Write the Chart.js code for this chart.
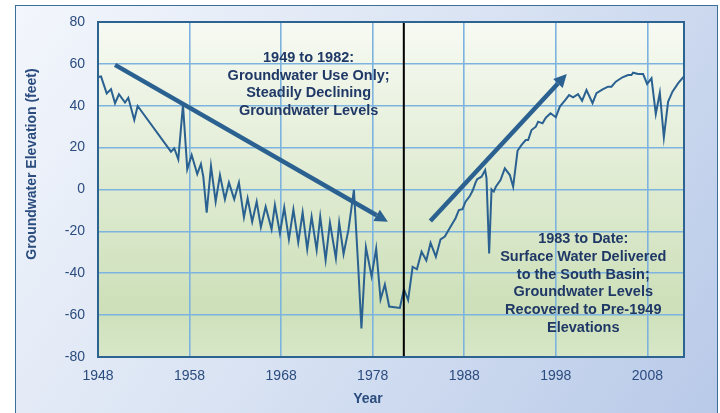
<!DOCTYPE html>
<html>
<head>
<meta charset="utf-8">
<script src="https://cdn.jsdelivr.net/npm/chart.js@4.4.1/dist/chart.umd.min.js"></script>
<style>
  html, body { margin: 0; padding: 0; width: 720px; height: 413px; overflow: hidden; background: #fff; }
  .panel {
    position: absolute; left: 15px; top: 5px; width: 701px; height: 420px;
    border: 1.5px solid #3b6f98;
    background: linear-gradient(125deg, #f3f6fc 0%, #d9e3f3 48%, #b8c9e8 100%);
  }
  .wrap { position: absolute; left: 0; top: 0; width: 720px; height: 413px; }
</style>
</head>
<body>
<div class="panel"></div>
<div class="wrap"><canvas id="gwChart"></canvas></div>
<script>
const years = [
  1948.05, 1948.33, 1948.95, 1949.42, 1949.86, 1950.29, 1950.95, 1951.31, 1951.96, 1952.33,
  1955.97, 1956.33, 1956.77, 1957.28, 1957.75, 1958.23, 1958.84, 1959.24, 1959.50, 1959.87,
  1960.34, 1960.85, 1961.32, 1961.86, 1962.30, 1962.88, 1963.39, 1963.94, 1964.34, 1964.84,
  1965.33, 1965.79, 1966.31, 1966.96, 1967.32, 1967.87, 1968.34, 1968.85, 1969.34, 1969.87,
  1970.35, 1970.85, 1971.33, 1971.88, 1972.27, 1972.86, 1973.33, 1973.98, 1974.34, 1974.82,
  1975.35, 1975.95, 1976.42, 1976.77, 1977.26, 1977.88, 1978.38, 1978.86, 1979.33, 1979.80,
  1980.97, 1981.41, 1981.87, 1982.36, 1982.83, 1983.34, 1983.86, 1984.32, 1984.90, 1985.41,
  1985.88, 1986.50, 1987.05, 1987.41, 1987.81, 1988.14, 1988.61, 1988.91, 1989.23, 1989.41,
  1989.89, 1990.28, 1990.43, 1990.72, 1990.98, 1991.23, 1991.45, 1991.96, 1992.43, 1992.98,
  1993.34, 1993.82, 1994.26, 1994.72, 1994.98, 1995.35, 1995.82, 1996.07, 1996.55, 1996.91,
  1997.42, 1998.00, 1998.44, 1998.98, 1999.45, 1999.89, 2000.43, 2000.87, 2001.35, 2002.01,
  2002.44, 2003.16, 2003.71, 2004.08, 2004.55, 2005.28, 2005.89, 2006.26, 2006.44, 2006.99,
  2007.53, 2007.97, 2008.45, 2008.92, 2009.36, 2009.80, 2010.26, 2010.74, 2011.35, 2011.97
];
const elevation = [
  53.7, 54.0, 45.9, 47.9, 41.2, 45.5, 41.5, 43.8, 33.2, 39.9,
  18.1, 19.7, 14.4, 40.4, 9.7, 16.5, 7.4, 12.2, 6.1, -11.1,
  11.2, -5.8, 6.9, -4.7, 3.3, -4.7, 3.3, -13.3, -4.2, -15.4,
  -5.8, -18.0, -8.2, -19.0, -7.4, -20.9, -8.6, -23.8, -9.6, -25.3,
  -11.0, -28.5, -13.0, -28.9, -13.0, -33.7, -15.8, -32.8, -15.8, -30.8,
  -19.3, -0.2, -36.9, -66.4, -27.6, -41.5, -28.2, -52.5, -45.4, -55.9,
  -56.6, -47.6, -52.8, -36.9, -38.1, -29.7, -33.9, -25.5, -32.1, -23.8,
  -22.5, -17.8, -13.7, -9.8, -9.4, -5.8, -3.1, -0.6, 3.3, 4.9,
  6.1, 9.3, 5.4, -30.5, 0.1, -1.0, 1.3, 4.5, 10.1, 6.9,
  1.3, 18.5, 21.3, 23.6, 23.6, 28.4, 30.0, 32.4, 31.6, 34.3,
  36.4, 34.5, 39.6, 42.4, 45.1, 44.0, 45.5, 42.4, 47.5, 41.2,
  46.0, 47.9, 49.1, 49.1, 51.5, 53.6, 54.7, 54.7, 55.8, 55.2,
  55.2, 50.4, 53.1, 36.1, 46.2, 24.9, 41.9, 46.7, 50.7, 53.9
];
const xTicks = [1948, 1958, 1968, 1978, 1988, 1998, 2008];
const yTicks = [-80, -60, -40, -20, 0, 20, 40, 60, 80];

// annotations, in data units
const dividerYear = 1981.4;
const arrows = [
  [1949.86, 59.5, 1979.66, -15.4],
  [1984.3, -15.0, 1999.2, 55.2]
];
const notes = [
  { year: 1971.0, elev: 62.8, lines: ['1949 to 1982:', 'Groundwater Use Only;', 'Steadily Declining', 'Groundwater Levels'] },
  { year: 2001.0, elev: -23.8, lines: ['1983 to Date:', 'Surface Water Delivered', 'to the South Basin;', 'Groundwater Levels', 'Recovered to Pre-1949', 'Elevations'] }
];

const FONT = '"Liberation Sans", Arial, sans-serif';
const BLUE = '#2a6190';
const TEXT = '#2b4c7e';

function drawArrow(ctx, x1, y1, x2, y2) {
  const ang = Math.atan2(y2 - y1, x2 - x1);
  const head = 13, half = 6.5;
  const bx = x2 - head * Math.cos(ang), by = y2 - head * Math.sin(ang);
  ctx.beginPath();
  ctx.moveTo(x1, y1);
  ctx.lineTo(bx, by);
  ctx.stroke();
  ctx.beginPath();
  ctx.moveTo(x2, y2);
  ctx.lineTo(bx + half * Math.sin(ang), by - half * Math.cos(ang));
  ctx.lineTo(bx - half * Math.sin(ang), by + half * Math.cos(ang));
  ctx.closePath();
  ctx.fill();
}

const decor = {
  id: 'decor',
  beforeDraw(chart) {
    const { ctx, chartArea: a } = chart;
    const g = ctx.createLinearGradient(0, a.top, 0, a.bottom);
    g.addColorStop(0, '#f7faf3');
    g.addColorStop(0.45, '#e1ecd4');
    g.addColorStop(0.85, '#cde0b9');
    g.addColorStop(1, '#d7e7c8');
    ctx.save();
    ctx.fillStyle = g;
    ctx.fillRect(a.left, a.top, a.right - a.left, a.bottom - a.top);
    ctx.restore();
  },
  afterDraw(chart) {
    const { ctx, chartArea: a, scales: { x, y } } = chart;
    ctx.save();

    // 1982 divider
    const dx = x.getPixelForValue(dividerYear);
    ctx.strokeStyle = '#000';
    ctx.lineWidth = 2;
    ctx.beginPath();
    ctx.moveTo(dx, a.top);
    ctx.lineTo(dx, a.bottom);
    ctx.stroke();

    // trend arrows
    ctx.strokeStyle = BLUE;
    ctx.fillStyle = BLUE;
    ctx.lineWidth = 4.5;
    arrows.forEach(r => {
      drawArrow(ctx, x.getPixelForValue(r[0]), y.getPixelForValue(r[1]),
                     x.getPixelForValue(r[2]), y.getPixelForValue(r[3]));
    });

    // notes
    ctx.fillStyle = '#1f3866';
    ctx.font = 'bold 14.5px ' + FONT;
    ctx.textAlign = 'center';
    ctx.textBaseline = 'middle';
    notes.forEach(n => {
      const px = x.getPixelForValue(n.year), py = y.getPixelForValue(n.elev);
      n.lines.forEach((t, i) => ctx.fillText(t, px, py + i * 17.7));
    });

    // plot frame
    ctx.strokeStyle = '#2c6391';
    ctx.lineWidth = 2;
    ctx.strokeRect(a.left, a.top, a.right - a.left, a.bottom - a.top);

    // axis titles
    ctx.fillStyle = TEXT;
    ctx.font = 'bold 14px ' + FONT;
    ctx.fillText('Year', 368, 399);
    ctx.translate(32, 164);
    ctx.rotate(-Math.PI / 2);
    ctx.fillText('Groundwater Elevation (feet)', 0, 0);
    ctx.restore();
  }
};

new Chart(document.getElementById('gwChart'), {
  type: 'line',
  data: {
    datasets: [{
      data: years.map((yr, i) => ({ x: yr, y: elevation[i] })),
      borderColor: BLUE,
      borderWidth: 2,
      pointRadius: 0,
      tension: 0,
      fill: false
    }]
  },
  options: {
    responsive: true,
    maintainAspectRatio: false,
    animation: false,
    layout: { padding: { top: 22, right: 36, left: 0, bottom: 0 } },
    plugins: { legend: { display: false }, tooltip: { enabled: false } },
    scales: {
      x: {
        type: 'linear',
        min: 1948,
        max: 2012,
        afterBuildTicks: s => { s.ticks = xTicks.map(v => ({ value: v })); },
        afterFit: s => { s.height = 56; },
        grid: { color: '#7db3df', lineWidth: 1.6, drawTicks: false },
        border: { display: false },
        ticks: { color: TEXT, font: { family: FONT, size: 14 }, padding: 11, maxRotation: 0, callback: v => String(v) }
      },
      y: {
        min: -80,
        max: 80,
        afterBuildTicks: s => { s.ticks = yTicks.map(v => ({ value: v })); },
        afterFit: s => { s.width = 98; },
        grid: { color: '#7db3df', lineWidth: 1.6, drawTicks: false },
        border: { display: false },
        ticks: { color: TEXT, font: { family: FONT, size: 14 }, padding: 13, callback: v => String(v) }
      }
    }
  },
  plugins: [decor]
});
</script>
</body>
</html>
